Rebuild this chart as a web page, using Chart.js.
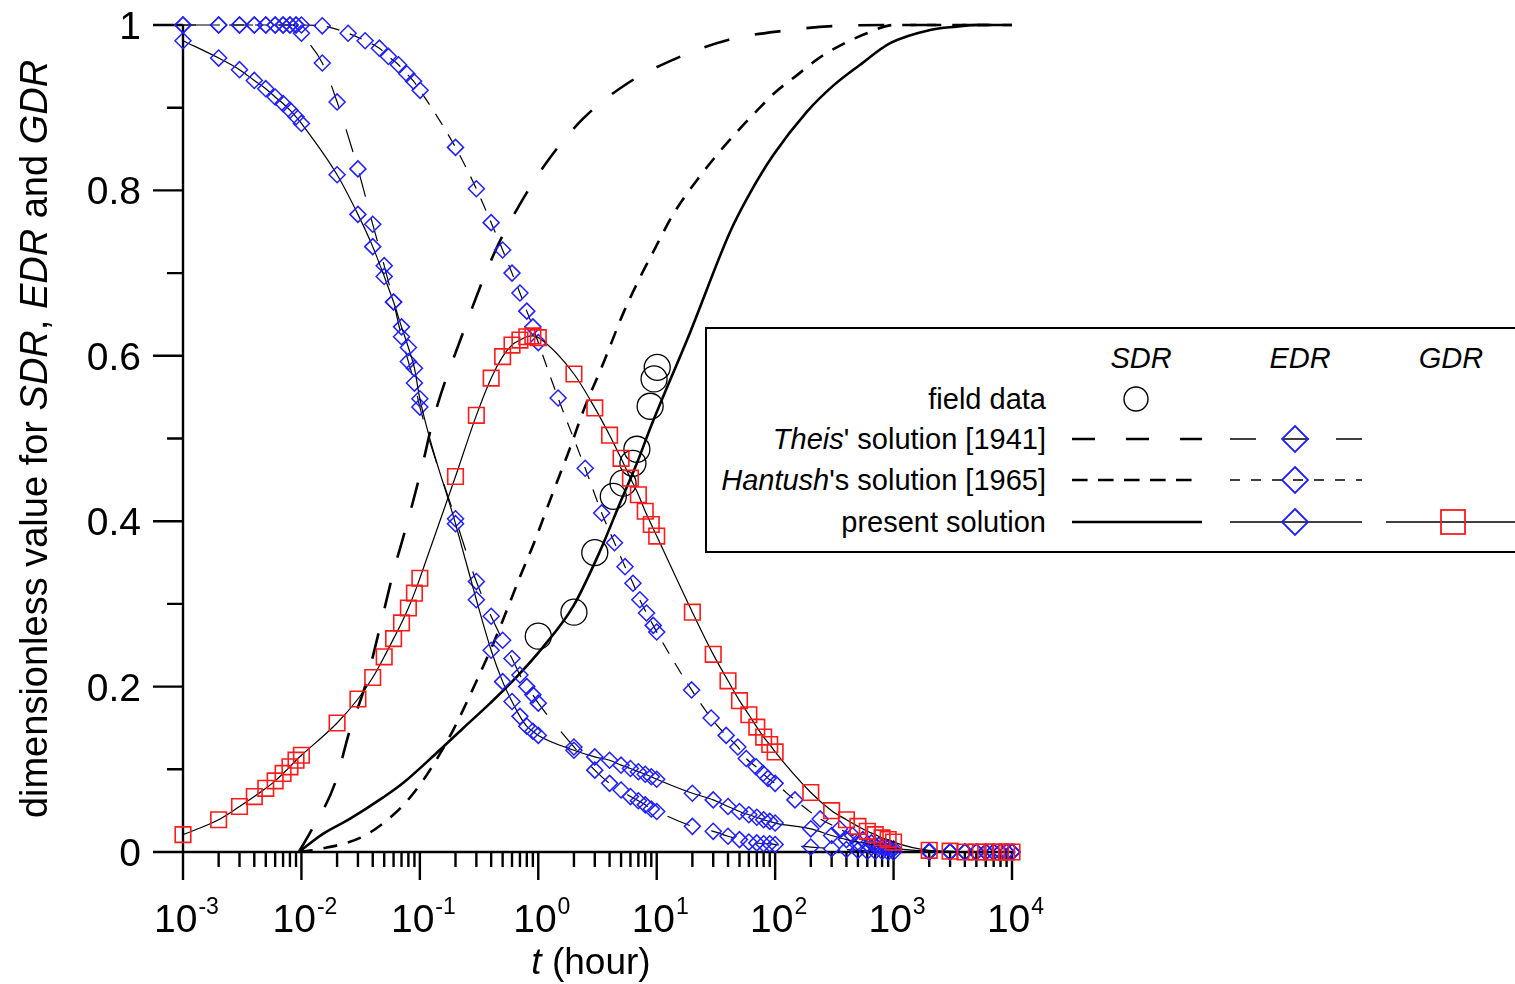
<!DOCTYPE html>
<html>
<head>
<meta charset="utf-8">
<title>SDR, EDR and GDR</title>
<script src="https://cdn.jsdelivr.net/npm/chart.js@4.4.1/dist/chart.umd.min.js"></script>
<style>
  html, body { margin: 0; padding: 0; background: #fff; overflow: hidden; }
  #wrap { position: relative; width: 1515px; height: 984px; }
  #c { position: absolute; left: 0; top: 0; }
  #overlay { position: absolute; left: 0; top: 0; pointer-events: none; }
</style>
</head>
<body>
<div id="wrap">
  <canvas id="c" width="1515" height="984"></canvas>
  <svg id="overlay" width="1515" height="984" font-family="'Liberation Sans', Arial, sans-serif">
    <!-- axis titles -->
    <text x="591" y="974" font-size="37" text-anchor="middle"><tspan font-style="italic">t</tspan> (hour)</text>
    <text transform="translate(47,439) rotate(-90)" font-size="38" text-anchor="middle">dimensionless value for <tspan font-style="italic">SDR</tspan>, <tspan font-style="italic">EDR</tspan> and <tspan font-style="italic">GDR</tspan></text>

    <!-- legend -->
    <rect x="706" y="328" width="830" height="224" fill="#fff" stroke="#000" stroke-width="2"/>
    <g font-size="29" font-style="italic" text-anchor="middle">
      <text x="1141" y="368">SDR</text>
      <text x="1300" y="368">EDR</text>
      <text x="1451" y="368">GDR</text>
    </g>
    <g font-size="29" text-anchor="end">
      <text x="1046" y="409">field data</text>
      <text x="1046" y="449"><tspan font-style="italic">Theis</tspan>' solution [1941]</text>
      <text x="1046" y="490"><tspan font-style="italic">Hantush</tspan>'s solution [1965]</text>
      <text x="1046" y="532">present solution</text>
    </g>
    <g fill="none">
      <circle cx="1136" cy="399" r="12" stroke="#000" stroke-width="1.4"/>
      <line x1="1072" y1="439" x2="1202" y2="439" stroke="#000" stroke-width="2.6" stroke-dasharray="23 31"/>
      <line x1="1230" y1="439" x2="1362" y2="439" stroke="#000" stroke-width="1.3" stroke-dasharray="26 27"/>
      <path d="M1295 426 L1308 439 L1295 452 L1282 439 Z" stroke="#1f1fff" stroke-width="1.8"/>
      <line x1="1072" y1="480" x2="1202" y2="480" stroke="#000" stroke-width="2.6" stroke-dasharray="15.6 10.4"/>
      <line x1="1230" y1="480" x2="1362" y2="480" stroke="#000" stroke-width="1.3" stroke-dasharray="10 11"/>
      <path d="M1295 467 L1308 480 L1295 493 L1282 480 Z" stroke="#1f1fff" stroke-width="1.8"/>
      <line x1="1072" y1="522" x2="1202" y2="522" stroke="#000" stroke-width="2.6"/>
      <line x1="1230" y1="522" x2="1362" y2="522" stroke="#000" stroke-width="1.3"/>
      <path d="M1295 509 L1308 522 L1295 535 L1282 522 Z" stroke="#1f1fff" stroke-width="1.8"/>
      <line x1="1386" y1="522" x2="1520" y2="522" stroke="#000" stroke-width="1.3"/>
      <rect x="1441" y="510" width="24" height="24" stroke="#ff1a1a" stroke-width="1.8"/>
    </g>
  </svg>
</div>
<script>
// t values (hour) where the GDR and the present EDR markers sit
const tGrid = [
  0.001, 0.002, 0.003, 0.004, 0.005, 0.006, 0.007, 0.008, 0.009,
  0.01, 0.02, 0.03, 0.04, 0.05, 0.06, 0.07, 0.08, 0.09,
  0.1, 0.2, 0.3, 0.4, 0.5, 0.6, 0.7, 0.8, 0.9,
  1, 2, 3, 4, 5, 6, 7, 8, 9,
  10, 20, 30, 40, 50, 60, 70, 80, 90,
  100, 200, 300, 400, 500, 600, 700, 800, 900,
  1000, 2000, 3000, 4000, 5000, 6000, 7000, 8000, 9000,
  10000
];

// GDR, present solution
const gdrPresent = [
  0.021, 0.039, 0.055, 0.067, 0.077, 0.086, 0.095, 0.103, 0.111,
  0.117, 0.156, 0.185, 0.211, 0.236, 0.258, 0.277, 0.295, 0.313,
  0.331, 0.454, 0.528, 0.573, 0.599, 0.613, 0.619, 0.623, 0.624,
  0.622, 0.578, 0.537, 0.504, 0.476, 0.452, 0.432, 0.412, 0.396,
  0.382, 0.290, 0.239, 0.207, 0.183, 0.166, 0.151, 0.139, 0.130,
  0.121, 0.072, 0.050, 0.039, 0.031, 0.025, 0.021, 0.017, 0.015,
  0.012, 0.002, 0.001, 0, 0, 0, 0, 0, 0,
  0
];

// EDR, present solution
const edrPresent = [
  0.981, 0.960, 0.946, 0.933, 0.923, 0.913, 0.905, 0.897, 0.889,
  0.881, 0.819, 0.771, 0.732, 0.696, 0.665, 0.635, 0.610, 0.585,
  0.548, 0.397, 0.305, 0.244, 0.206, 0.182, 0.164, 0.152, 0.146,
  0.141, 0.123, 0.115, 0.111, 0.105, 0.101, 0.097, 0.094, 0.091,
  0.088, 0.071, 0.063, 0.055, 0.049, 0.045, 0.042, 0.039, 0.037,
  0.035, 0.028, 0.020, 0.015, 0.012, 0.010, 0.008, 0.006, 0.005,
  0.004, 0.001, 0, 0, 0, 0, 0, 0, 0,
  0
];

// EDR, Theis' solution
const edrTheisT = [
  0.001, 0.002, 0.003, 0.004, 0.005, 0.006, 0.007, 0.008, 0.009,
  0.01, 0.015, 0.02, 0.03, 0.04, 0.05, 0.06, 0.07, 0.08, 0.09,
  0.1, 0.2, 0.3, 0.4, 0.5, 0.6, 0.7, 0.8, 0.9,
  1, 2, 3, 4, 5, 6, 7, 8, 9,
  10, 20, 30, 40, 50, 60, 70, 80, 90,
  100, 200, 300, 400, 500, 600, 700, 800, 900,
  1000, 2000, 3000, 4000, 5000, 6000, 7000, 8000, 9000,
  10000
];
const edrTheis = [
  1, 1, 1, 1, 1, 1, 1, 1, 1,
  0.990, 0.954, 0.907, 0.826, 0.759, 0.709, 0.665, 0.623, 0.593, 0.567,
  0.538, 0.403, 0.327, 0.285, 0.256, 0.234, 0.214, 0.200, 0.190,
  0.180, 0.127, 0.099, 0.083, 0.075, 0.067, 0.062, 0.057, 0.052,
  0.049, 0.031, 0.025, 0.019, 0.015, 0.012, 0.011, 0.010, 0.010,
  0.009, 0.006, 0.004, 0.003, 0.002, 0.001, 0.001, 0.001, 0,
  0, 0, 0, 0, 0, 0, 0, 0, 0,
  0
];

// EDR, Hantush's solution
const edrHantushT = [
  0.001, 0.002, 0.003, 0.004, 0.005, 0.006, 0.007, 0.008, 0.009,
  0.01, 0.015, 0.0248, 0.0345, 0.0455, 0.0543, 0.066, 0.0776, 0.0885,
  0.1005, 0.2, 0.3, 0.4, 0.5, 0.6, 0.7, 0.8, 0.9,
  1, 1.47, 2.49, 3.43, 4.4, 5.4, 6.3, 7.2, 8.2, 9.35,
  10, 19.7, 28.8, 38.6, 48.4, 57, 69, 79, 87,
  100, 147, 240, 350, 450, 550, 650, 750, 850, 950,
  2000, 3000, 4000, 5000, 6000, 7000, 8000, 9000,
  10000
];
const edrHantush = [
  1, 1, 1, 1, 1, 1, 1, 1, 1,
  1, 0.999, 0.990, 0.981, 0.972, 0.962, 0.952, 0.941, 0.932,
  0.921, 0.852, 0.802, 0.761, 0.728, 0.700, 0.676, 0.654, 0.635,
  0.616, 0.549, 0.464, 0.410, 0.374, 0.345, 0.325, 0.305, 0.289, 0.274,
  0.266, 0.196, 0.162, 0.141, 0.127, 0.113, 0.103, 0.095, 0.089,
  0.083, 0.063, 0.040, 0.028, 0.020, 0.015, 0.011, 0.008, 0.006, 0.004,
  0, 0, 0, 0, 0, 0, 0, 0,
  0
];

// SDR curves (no markers)
const sdrTheisT = [0.0095, 0.0118, 0.0192, 0.0257, 0.0344, 0.0461, 0.0594, 0.0794, 0.106, 0.129,
  0.233, 0.418, 0.679, 1.22, 2.4, 5.6, 14.8, 40, 117, 340, 1000, 10000];
const sdrTheis = [0, 0.023, 0.083, 0.148, 0.200, 0.272, 0.337, 0.401, 0.470, 0.522,
  0.629, 0.722, 0.780, 0.837, 0.887, 0.929, 0.960, 0.982, 0.993, 0.999, 1, 1];

const sdrHantushT = [0.0095, 0.0148, 0.0313, 0.0492, 0.075, 0.107, 0.148, 0.192, 0.344, 0.446,
  0.702, 0.94, 1.18, 1.48, 1.86, 2.41, 3.54, 5.2, 7.3, 9.3, 13.9, 24, 34.5, 48.5, 70.8,
  101, 155, 234, 363, 595, 1000, 10000];
const sdrHantush = [0, 0.004, 0.017, 0.035, 0.059, 0.087, 0.119, 0.148, 0.225, 0.262,
  0.333, 0.377, 0.415, 0.452, 0.489, 0.534, 0.591, 0.651, 0.696, 0.725, 0.772, 0.820, 0.848, 0.872, 0.897,
  0.919, 0.940, 0.960, 0.976, 0.990, 1, 1];

const sdrPresentT = [0.0095, 0.0152, 0.0256, 0.049, 0.073, 0.139, 0.233, 0.393, 0.66, 1.1,
  1.97, 3.3, 4.9, 6.8, 8.9, 19.1, 41.7, 61.5, 96.8, 185, 311, 522, 936, 2040, 3400, 5000, 10000];
const sdrPresent = [0, 0.022, 0.040, 0.066, 0.084, 0.120, 0.150, 0.180, 0.212, 0.248,
  0.297, 0.363, 0.422, 0.470, 0.514, 0.628, 0.750, 0.797, 0.843, 0.895, 0.927, 0.952, 0.978, 0.994, 0.998, 1, 1];

// field data (SDR)
const fieldT = [1.0, 2.0, 3.0, 4.3, 5.2, 6.3, 6.8, 8.8, 9.5, 10.1];
const fieldSDR = [0.261, 0.290, 0.362, 0.430, 0.446, 0.470, 0.487, 0.539, 0.572, 0.586];

// axes
const xExponents = [-3, -2, -1, 0, 1, 2, 3, 4];
const xMinorMultipliers = [2, 3, 4, 5, 6, 7, 8, 9];
const yMajor = [0, 0.2, 0.4, 0.6, 0.8, 1];
const yTickLabels = ['0', '0.2', '0.4', '0.6', '0.8', '1'];
const yMinor = [0.1, 0.3, 0.5, 0.7, 0.9];

const BLUE = '#1f1fff';
const RED = '#ff1a1a';
const FONT = "'Liberation Sans', Arial, sans-serif";

const pts = (ts, vs) => ts.map((t, i) => ({ x: t, y: vs[i] }));

// draws the axis lines, log ticks and labels with superscripts
const axisPlugin = {
  id: 'paperAxes',
  beforeDatasetsDraw(chart) {
    const { ctx, scales: { x, y } } = chart;
    const left = x.getPixelForValue(1e-3);
    const right = x.getPixelForValue(1e4);
    const top = y.getPixelForValue(1);
    const bottom = y.getPixelForValue(0);
    ctx.save();
    ctx.strokeStyle = '#000';
    ctx.lineWidth = 2.4;
    ctx.beginPath();
    ctx.moveTo(left, top); ctx.lineTo(left, bottom);
    ctx.moveTo(left, bottom); ctx.lineTo(right + 1, bottom);
    yMajor.forEach(v => { const p = y.getPixelForValue(v); ctx.moveTo(left - 30, p); ctx.lineTo(left, p); });
    yMinor.forEach(v => { const p = y.getPixelForValue(v); ctx.moveTo(left - 16, p); ctx.lineTo(left, p); });
    xExponents.forEach(e => {
      const p = x.getPixelForValue(Math.pow(10, e));
      ctx.moveTo(p, bottom); ctx.lineTo(p, bottom + 28);
      if (e < 4) {
        xMinorMultipliers.forEach(m => {
          const q = x.getPixelForValue(m * Math.pow(10, e));
          ctx.moveTo(q, bottom); ctx.lineTo(q, bottom + 15);
        });
      }
    });
    ctx.stroke();

    ctx.fillStyle = '#000';
    ctx.textBaseline = 'alphabetic';
    ctx.font = '39px ' + FONT;
    ctx.textAlign = 'right';
    yMajor.forEach((v, i) => ctx.fillText(yTickLabels[i], left - 42, y.getPixelForValue(v) + 14));

    ctx.textAlign = 'left';
    xExponents.forEach(e => {
      const p = x.getPixelForValue(Math.pow(10, e));
      ctx.font = '39px ' + FONT;
      const wb = ctx.measureText('10').width;
      ctx.font = '23px ' + FONT;
      const we = ctx.measureText(String(e)).width;
      const x0 = p - (wb + we) / 2 + 3;
      ctx.font = '39px ' + FONT;
      ctx.fillText('10', x0, bottom + 80);
      ctx.font = '23px ' + FONT;
      ctx.fillText(String(e), x0 + wb + 1, bottom + 62);
    });
    ctx.restore();
  }
};

const sdrStyle = { borderColor: '#000', borderWidth: 2.6, pointRadius: 0, fill: false, cubicInterpolationMode: 'monotone', clip: false };
const edrStyle = {
  borderColor: '#000', borderWidth: 1.2, fill: false, cubicInterpolationMode: 'monotone', clip: false,
  pointStyle: 'rectRot', pointRadius: 8, pointBorderColor: BLUE, pointBackgroundColor: 'rgba(0,0,0,0)', pointBorderWidth: 1.5
};

new Chart(document.getElementById('c'), {
  type: 'line',
  data: {
    datasets: [
      { label: 'GDR present', data: pts(tGrid, gdrPresent), borderColor: '#000', borderWidth: 1.2, fill: false,
        cubicInterpolationMode: 'monotone', clip: false, pointStyle: 'rect', pointRadius: 11,
        pointBorderColor: RED, pointBackgroundColor: 'rgba(0,0,0,0)', pointBorderWidth: 1.6 },
      { label: 'EDR present', data: pts(tGrid, edrPresent), ...edrStyle },
      { label: 'EDR Theis', data: pts(edrTheisT, edrTheis), ...edrStyle, borderDash: [24, 22] },
      { label: 'EDR Hantush', data: pts(edrHantushT, edrHantush), ...edrStyle, borderDash: [13, 11] },
      { label: 'field data', data: pts(fieldT, fieldSDR), showLine: false, clip: false, pointStyle: 'circle',
        pointRadius: 13, pointBorderColor: '#000', pointBackgroundColor: 'rgba(0,0,0,0)', pointBorderWidth: 1.3 },
      { label: 'SDR present', data: pts(sdrPresentT, sdrPresent), ...sdrStyle },
      { label: 'SDR Hantush', data: pts(sdrHantushT, sdrHantush), ...sdrStyle, borderDash: [14, 11] },
      { label: 'SDR Theis', data: pts(sdrTheisT, sdrTheis), ...sdrStyle, borderDash: [26, 26] }
    ]
  },
  options: {
    responsive: false,
    animation: false,
    events: [],
    layout: { padding: { left: 0, top: 25, right: 503, bottom: 0 } },
    plugins: { legend: { display: false }, tooltip: { enabled: false } },
    scales: {
      x: {
        type: 'logarithmic', min: 1e-3, max: 1e4,
        grid: { display: false }, border: { display: false }, ticks: { display: false },
        afterFit: s => { s.height = 132; }
      },
      y: {
        type: 'linear', min: 0, max: 1,
        grid: { display: false }, border: { display: false }, ticks: { display: false },
        afterFit: s => { s.width = 183; }
      }
    }
  },
  plugins: [axisPlugin]
});
</script>
</body>
</html>
